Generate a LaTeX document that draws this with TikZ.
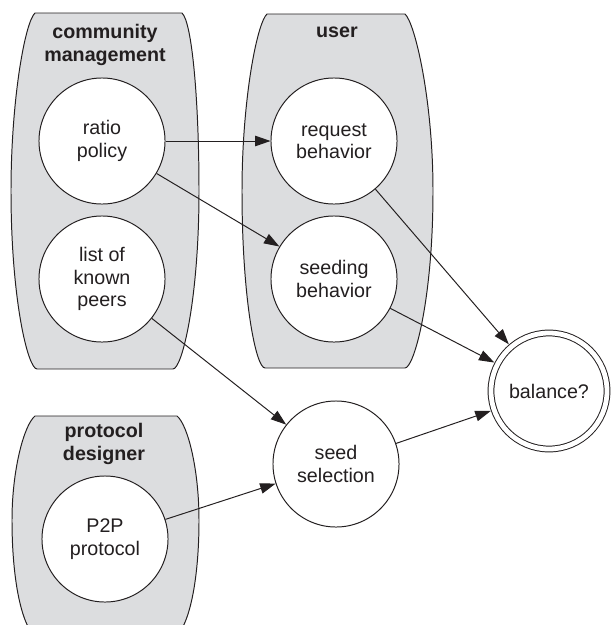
\documentclass[tikz,border=0pt]{standalone}
\usepackage{fontspec}
\setmainfont{Liberation Sans}
\usepackage{tikz}
\usetikzlibrary{shapes,arrows.meta,positioning}
\definecolor{ink}{RGB}{35,31,32}
\definecolor{paneGrey}{RGB}{220,221,223}

\tikzset{
  pane/.style={draw=ink, fill=paneGrey, line width=0.7pt},
  bubble/.style={circle, draw=ink, fill=white, line width=0.7pt, minimum size=3.15cm,
    inner sep=0pt, align=center, text=ink, font=\fontsize{14}{16}\selectfont},
  goal/.style={bubble, double=white, double distance=0.12cm, minimum size=2.9cm, outer sep=0.09cm},
  title/.style={align=center, text=ink, font=\fontsize{14}{16}\selectfont\bfseries},
  arr/.style={draw=ink, line width=0.7pt, -{Triangle[length=11pt,width=7.5pt]}}
}

\begin{document}
\begin{tikzpicture}[x=0.025cm, y=-0.025cm]
\useasboundingbox (0,0) rectangle (612,625);
\clip (0,0) rectangle (612,625);

% Panes
\path[pane] (35,13) -- (182,13) .. controls (192,22) and (199,100) .. (199,191)
  .. controls (199,300) and (182,369) .. (173,369) -- (37,369)
  .. controls (28,369) and (11,300) .. (11,191)
  .. controls (11,100) and (25,22) .. (35,13) -- cycle;
\path[pane] (267,14) -- (405,14) .. controls (415,23) and (433,100) .. (433,191)
  .. controls (433,300) and (414,368) .. (405,368) -- (265,368)
  .. controls (256,368) and (242,300) .. (242,191)
  .. controls (242,100) and (257,23) .. (267,14) -- cycle;
\path[pane] (35,416) -- (177,416) .. controls (188,425) and (199,470) .. (199,520)
  .. controls (199,590) and (186,640) .. (168,640) -- (43,640)
  .. controls (25,640) and (12,590) .. (12,520)
  .. controls (12,470) and (24,425) .. (35,416) -- cycle;

\node[title] (community) at (105,45) {community\\management};
\node[title] (user) at (337,32) {user};
\node[title] (designer) at (104,444) {protocol\\designer};

% Circles
\node[bubble] (ratio) at (102,141) {ratio\\policy};
\node[bubble] (peers) at (102,279) {list of\\known\\peers};
\node[bubble] (request) at (334,141) {request\\behavior};
\node[bubble] (seeding) at (334,279) {seeding\\behavior};
\node[bubble] (seedsel) at (336,464) {seed\\selection};
\node[bubble] (p2p) at (105,539) {P2P\\protocol};
\node[goal] (balance) at (549,391) {balance?};

% Arrows
\draw[arr] (ratio) -- (request);
\draw[arr] (ratio) -- (seeding);
\draw[arr] (request) -- (balance);
\draw[arr] (seeding) -- (balance);
\draw[arr] (peers) -- (seedsel);
\draw[arr] (p2p) -- (seedsel);
\draw[arr] (seedsel) -- (balance);
\end{tikzpicture}
\end{document}
